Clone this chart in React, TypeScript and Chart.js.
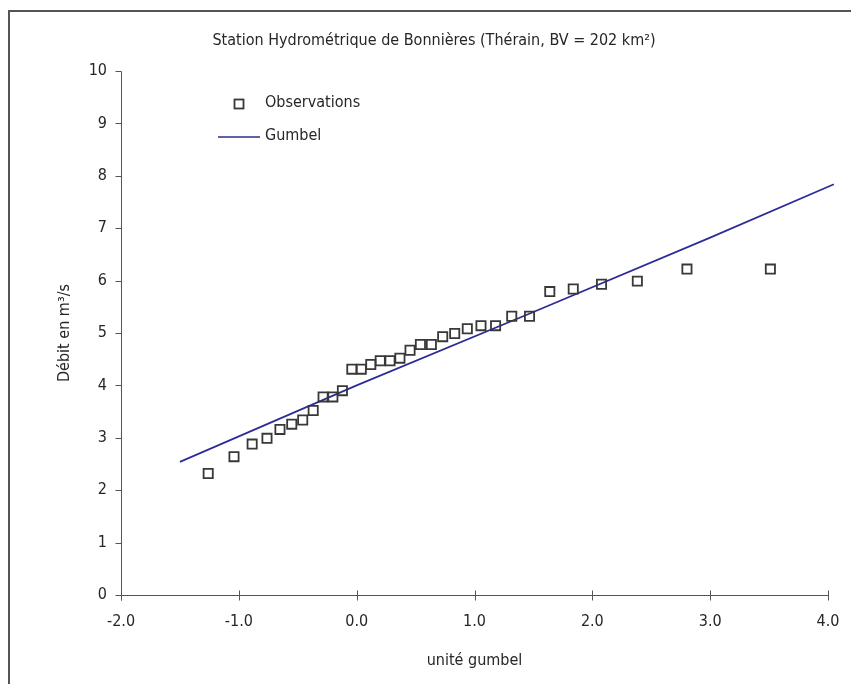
import { useEffect, useRef } from 'react';
import { Chart, registerables } from 'chart.js';

Chart.register(...registerables);

const FONT = '"DejaVu Sans Condensed", "Liberation Sans", sans-serif';
const FS = 16;

const chartTitle = 'Station Hydrométrique de Bonnières (Thérain, BV = 202 km²)';
const xAxisTitle = 'unité gumbel';
const yAxisTitle = 'Débit en m³/s';
const legendLabels = ['Observations', 'Gumbel'];

const xTickValues = [-2, -1, 0, 1, 2, 3, 4];
const yTickValues = [0, 1, 2, 3, 4, 5, 6, 7, 8, 9, 10];

// observations: reduced Gumbel variate and discharge
const reducedVariate = [
  -1.26, -1.041, -0.887, -0.761, -0.651, -0.551, -0.458, -0.369, -0.285, -0.202, -0.121,
  -0.041, 0.039, 0.12, 0.2, 0.283, 0.367, 0.453, 0.541, 0.634, 0.73, 0.832,
  0.939, 1.055, 1.179, 1.316, 1.467, 1.639, 1.838, 2.078, 2.382, 2.803, 3.511,
];
const observedFlow = [
  2.32, 2.64, 2.88, 2.99, 3.16, 3.26, 3.34, 3.52, 3.78, 3.78, 3.9,
  4.31, 4.31, 4.4, 4.47, 4.47, 4.52, 4.67, 4.78, 4.78, 4.93, 4.99,
  5.08, 5.14, 5.14, 5.32, 5.32, 5.79, 5.84, 5.93, 5.99, 6.22, 6.22,
];

// fitted Gumbel law
const fitVariate = [-1.5, 0, 1.5, 3.0, 4.05];
const fitFlow = [2.54, 4.0, 5.4, 6.82, 7.84];

const LINE_COLOR = '#2c2c98';
const MARKER_COLOR = '#383838';
const AXIS_COLOR = '#555555';
const TEXT_COLOR = '#262626';

const W = 841;
const H = 670;
const OX = 10; // canvas offset in page
const OY = 12;

export default function App() {
  const ref = useRef<HTMLCanvasElement | null>(null);

  useEffect(() => {
    if (!ref.current) return;

    const axesPlugin = {
      id: 'excelAxes',
      beforeDatasetsDraw(chart: any) {
        const { ctx, scales } = chart;
        const xs = scales.x;
        const ys = scales.y;
        ctx.save();
        ctx.strokeStyle = AXIS_COLOR;
        ctx.lineWidth = 1;
        const y0 = Math.round(ys.getPixelForValue(0)) + 0.5;
        const x0 = Math.round(xs.getPixelForValue(-2)) + 0.5;
        ctx.beginPath();
        ctx.moveTo(x0, Math.round(ys.getPixelForValue(10)) + 0.5);
        ctx.lineTo(x0, y0 + 5);
        ctx.moveTo(x0, y0);
        ctx.lineTo(Math.round(xs.getPixelForValue(4)) + 0.5, y0);
        yTickValues.forEach((v) => {
          const py = Math.round(ys.getPixelForValue(v)) + 0.5;
          ctx.moveTo(x0 - 6, py);
          ctx.lineTo(x0, py);
        });
        xTickValues.forEach((v) => {
          const px = Math.round(xs.getPixelForValue(v)) + 0.5;
          ctx.moveTo(px, y0 - 5);
          ctx.lineTo(px, y0 + 5);
        });
        ctx.stroke();
        ctx.restore();
      },
      afterDraw(chart: any) {
        const { ctx } = chart;
        ctx.save();
        ctx.fillStyle = TEXT_COLOR;
        ctx.font = `${FS}px ${FONT}`;
        ctx.textAlign = 'center';
        ctx.textBaseline = 'middle';
        ctx.fillText(chartTitle, 434 - OX, 41 - OY);

        // legend
        ctx.textAlign = 'left';
        ctx.fillText(legendLabels[0], 265 - OX, 103 - OY);
        ctx.fillText(legendLabels[1], 265 - OX, 136 - OY);
        ctx.strokeStyle = MARKER_COLOR;
        ctx.lineWidth = 1.8;
        ctx.strokeRect(239 - OX - 4.5, 104 - OY - 4.5, 9, 9);
        ctx.strokeStyle = LINE_COLOR;
        ctx.lineWidth = 1.7;
        ctx.beginPath();
        ctx.moveTo(218 - OX, 137 - OY);
        ctx.lineTo(260 - OX, 137 - OY);
        ctx.stroke();
        ctx.restore();
      },
    };

    const chart = new Chart(ref.current, {
      type: 'scatter',
      data: {
        datasets: [
          {
            label: legendLabels[1],
            type: 'line',
            data: fitVariate.map((x, i) => ({ x, y: fitFlow[i] })),
            borderColor: LINE_COLOR,
            borderWidth: 1.7,
            pointRadius: 0,
            fill: false,
            tension: 0,
            clip: 10,
            order: 2,
          },
          {
            label: legendLabels[0],
            data: reducedVariate.map((x, i) => ({ x, y: observedFlow[i] })),
            pointStyle: 'rect',
            pointRadius: 6.5,
            borderColor: MARKER_COLOR,
            borderWidth: 1.8,
            backgroundColor: 'rgba(0,0,0,0)',
            order: 1,
          },
        ],
      },
      options: {
        responsive: false,
        animation: false,
        layout: { padding: { top: 59, right: 23, bottom: 0, left: 0 } },
        plugins: {
          legend: { display: false },
          title: { display: false },
          tooltip: { enabled: false },
        },
        scales: {
          x: {
            type: 'linear',
            min: -2,
            max: 4,
            afterBuildTicks: (scale: any) => {
              scale.ticks = xTickValues.map((v) => ({ value: v }));
            },
            afterFit: (scale: any) => {
              scale.height = 87;
              scale.paddingLeft = 0;
              scale.paddingRight = 0;
            },
            grid: { display: false },
            border: { display: false },
            ticks: {
              color: TEXT_COLOR,
              padding: 9,
              font: { family: FONT, size: FS },
              callback: (v: any) => Number(v).toFixed(1),
            },
            title: {
              display: true,
              text: xAxisTitle,
              color: TEXT_COLOR,
              font: { family: FONT, size: FS },
              padding: { top: 0, bottom: 12 },
            },
          },
          y: {
            type: 'linear',
            min: 0,
            max: 10,
            afterBuildTicks: (scale: any) => {
              scale.ticks = yTickValues.map((v) => ({ value: v }));
            },
            afterFit: (scale: any) => {
              scale.width = 111;
              scale.paddingTop = 0;
              scale.paddingBottom = 0;
            },
            grid: { display: false },
            border: { display: false },
            ticks: {
              color: TEXT_COLOR,
              padding: 6,
              font: { family: FONT, size: FS },
              callback: (v: any) => String(v),
            },
            title: {
              display: true,
              text: yAxisTitle,
              color: TEXT_COLOR,
              font: { family: FONT, size: FS },
              padding: { top: 45, bottom: 0 },
            },
          },
        },
      },
      plugins: [axesPlugin],
    });

    return () => chart.destroy();
  }, []);

  return (
    <div
      style={{
        position: 'absolute',
        left: 8,
        top: 10,
        width: W + 2,
        height: H + 2,
        borderLeft: '2px solid #555',
        borderTop: '2px solid #555',
        background: '#fff',
      }}
    >
      <canvas ref={ref} width={W} height={H} style={{ display: 'block' }} />
    </div>
  );
}
